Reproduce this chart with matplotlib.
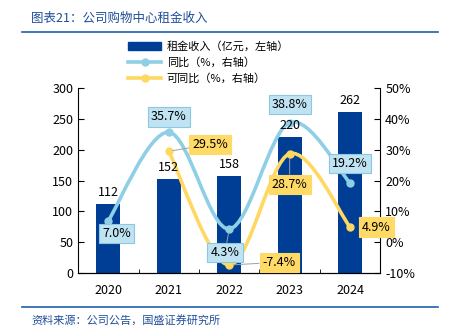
import numpy as np
import matplotlib.pyplot as plt
from matplotlib.path import Path
from matplotlib.patches import PathPatch
from matplotlib.lines import Line2D
from matplotlib.patches import Patch

plt.rcParams['font.family'] = ['Noto Sans CJK SC', 'DejaVu Sans']

years = ['2020', '2021', '2022', '2023', '2024']
rent = [112, 152, 158, 220, 262]
yoy = [7.0, 35.7, 4.3, 38.8, 19.2]
like_years = ['2021', '2022', '2023', '2024']
like_yoy = [29.5, -7.4, 28.7, 4.9]

navy = '#003E96'
sky = '#8FCFE6'
gold = '#FFD861'
sky_box = '#BFE3F2'
gold_box = '#FFDA66'


def smooth_path(xs, ys):
    # Excel-like smoothed line: cubic bezier through the data points
    pts = np.column_stack([xs, ys]).astype(float)
    n = len(pts)
    verts = [pts[0]]
    codes = [Path.MOVETO]
    for i in range(n - 1):
        p0 = pts[i - 1] if i > 0 else pts[i]
        p1 = pts[i]
        p2 = pts[i + 1]
        p3 = pts[i + 2] if i + 2 < n else pts[i + 1]
        c1 = p1 + (p2 - p0) / 6
        c2 = p2 - (p3 - p1) / 6
        verts += [c1, c2, p2]
        codes += [Path.CURVE4] * 3
    return Path(verts, codes)


fig = plt.figure(figsize=(4.49, 3.35), dpi=100)
ax = fig.add_axes([0.174, 0.185, 0.673, 0.552])
ax2 = ax.twinx()

x = np.arange(len(years))
x_like = np.array([years.index(y) for y in like_years])

ax.bar(x, rent, width=0.4, color=navy, zorder=2)
# bar value labels drawn on top of the lines
for xi, v in zip(x, rent):
    ax2.text(xi, v + 8, str(v), ha='center', va='bottom', fontsize=9,
             transform=ax.transData, zorder=5)

ax.set_ylim(0, 300)
ax.set_yticks(range(0, 301, 50))
ax.set_xlim(-0.5, 4.5)
ax.set_xticks(x)
ax.set_xticklabels(years)
ax.set_xticks(np.arange(0.5, 4, 1), minor=True)

ax2.set_ylim(-10, 50)
ax2.set_yticks(range(-10, 51, 10))
ax2.set_yticklabels([f'{t}%' for t in range(-10, 51, 10)])

ax2.add_patch(PathPatch(smooth_path(x, yoy), fill=False, edgecolor=sky, lw=2.6, zorder=3))
ax2.plot(x, yoy, 'o', color=sky, ms=5, zorder=4)
ax2.add_patch(PathPatch(smooth_path(x_like, like_yoy), fill=False, edgecolor=gold, lw=2.6, zorder=3))
ax2.plot(x_like, like_yoy, 'o', color=gold, ms=5, zorder=4)

# data labels (offsets in points)
yoy_off = [(6, -9), (0, 11), (-3, -17), (0, 13), (0, 14)]
like_off = [(30, 5), (36, 2), (0, -22), (19, 0)]


def label(xv, yv, txt, off, fc, ec, leader=False):
    ax2.annotate(txt, (xv, yv), xytext=off, textcoords='offset points',
                 ha='center', va='center', fontsize=9, zorder=6,
                 bbox=dict(boxstyle='square,pad=0.25', fc=fc, ec=ec, lw=0.8),
                 arrowprops=dict(arrowstyle='-', color='#A0A0A0', lw=0.7,
                                 shrinkA=0, shrinkB=3) if leader else None)


for i in range(len(years)):
    label(x[i], yoy[i], f'{yoy[i]:.1f}%', yoy_off[i], sky_box, '#8CC8E0', leader=(i == 2))
for i in range(len(like_years)):
    label(x_like[i], like_yoy[i], f'{like_yoy[i]:.1f}%', like_off[i], gold_box, gold_box,
          leader=(i in (0, 1, 2)))

for a in (ax, ax2):
    for s in ('top', 'left', 'right'):
        a.spines[s].set_visible(False)
ax.spines['left'].set_visible(True)
ax2.spines['right'].set_visible(True)
ax.tick_params(axis='y', direction='in', length=4, labelsize=9)
ax2.tick_params(axis='y', direction='in', length=4, labelsize=9)
ax.tick_params(axis='x', which='major', length=0, labelsize=9, pad=8)
ax.tick_params(axis='x', which='minor', direction='in', length=3)

handles = [Patch(color=navy),
           Line2D([], [], color=sky, lw=2.6, marker='o', ms=5),
           Line2D([], [], color=gold, lw=2.6, marker='o', ms=5)]
labels = ['租金收入（亿元，左轴）', '同比（%，右轴）', '可同比（%，右轴）']
fig.legend(handles, labels, loc='upper left', bbox_to_anchor=(0.275, 0.89),
           frameon=False, fontsize=8, handlelength=3, labelspacing=0.45,
           borderaxespad=0, handletextpad=0.5)

fig.text(0.07, 0.945, '图表21：公司购物中心租金收入', fontsize=9, color='#1F4E9A',
         style='italic', va='center')
fig.add_artist(Line2D([0.05, 0.975], [0.905, 0.905], color='#1F5FAE', lw=1.2))
fig.add_artist(Line2D([0.05, 0.975], [0.085, 0.085], color='#1F5FAE', lw=1.2))
fig.text(0.07, 0.045, '资料来源：公司公告，国盛证券研究所', fontsize=8, color='#1F4E9A',
         style='italic', va='center')

fig.savefig('out.png', dpi=100)
